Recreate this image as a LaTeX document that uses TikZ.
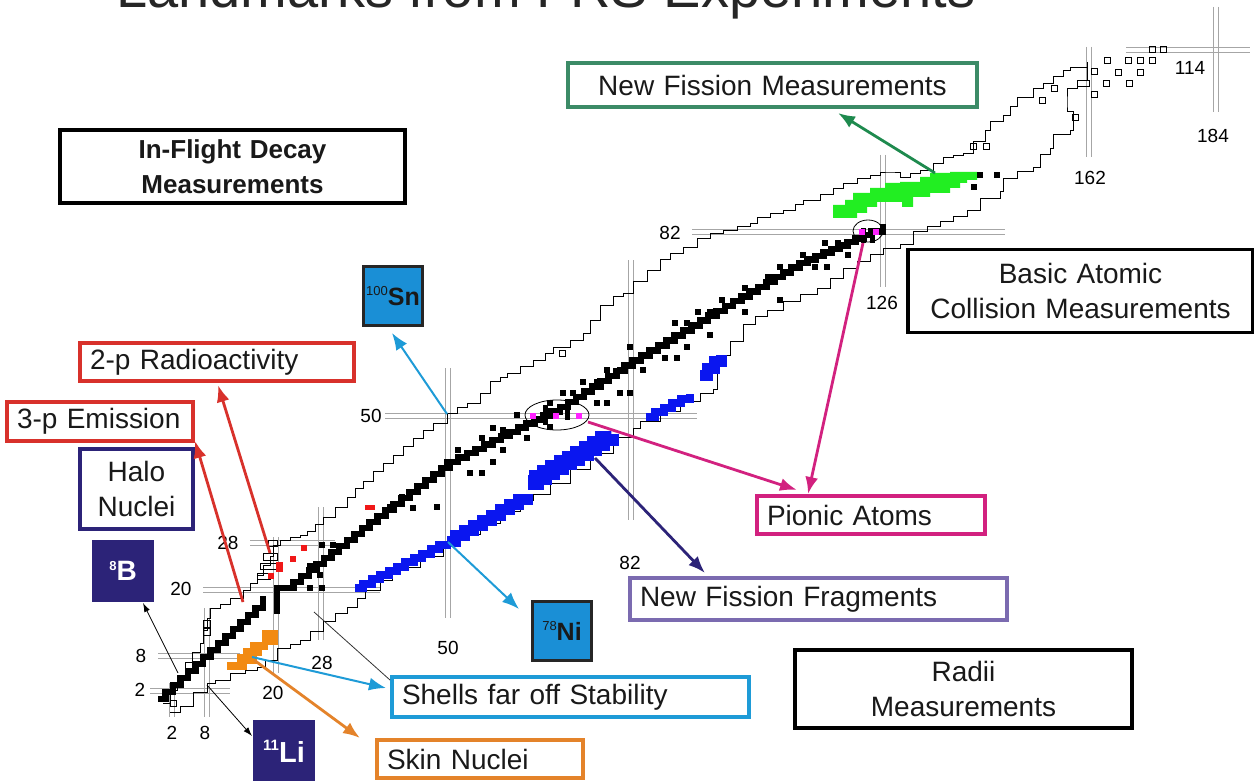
\documentclass[tikz,border=0pt]{standalone}
\usepackage{fontspec}
\setmainfont{Liberation Sans}
\usetikzlibrary{arrows.meta,calc}
\definecolor{navy}{HTML}{2C2378}
\definecolor{redbox}{HTML}{D8312B}
\definecolor{grnbox}{HTML}{3C8B67}
\definecolor{grnarr}{HTML}{1E8A4E}
\definecolor{pinkbox}{HTML}{D2217F}
\definecolor{purpbox}{HTML}{7B6BB0}
\definecolor{shellbox}{HTML}{1E9BD7}
\definecolor{orgbox}{HTML}{E4832A}
\definecolor{elblue}{HTML}{1A8FD6}
\definecolor{regblue}{HTML}{0A16F0}
\definecolor{reggreen}{HTML}{22EE22}
\definecolor{regorange}{HTML}{F28A12}
\definecolor{dotmag}{HTML}{FF22FF}
\definecolor{regred}{HTML}{F01818}
\newcommand\bsq[2]{\fill ({#1-2.9},{#2-2.9}) rectangle +(5.8,5.8);}
\newcommand\hsq[2]{\draw[line width=0.8pt] ({#1-3},{#2-3}) rectangle +(6,6);}
\newcommand\hmag[3]{\draw[magic] (#1,#3) -- (#2,#3); \draw[magic] (#1,{#3+5}) -- (#2,{#3+5});}
\newcommand\vmag[3]{\draw[magic] (#1,#2) -- (#1,#3); \draw[magic] ({#1+5},#2) -- ({#1+5},#3);}
\tikzset{
  magic/.style={draw=black!35, line width=0.7pt},
  drip/.style={draw=black, line width=0.9pt, line join=miter},
  stab/.style={draw=black, line width=6.5pt, line join=miter},
  bluestair/.style={draw=regblue, line join=miter},
  lbox/.style={draw, line width=3.5pt, inner xsep=10pt, inner ysep=0pt, font=\fontsize{28}{35}\selectfont, text=black!90},
  numlbl/.style={font=\fontsize{19}{19}\selectfont, inner sep=0pt},
  arr/.style={line width=2.8pt, -{Latex[length=17pt,width=13pt]}},
  thinarr/.style={line width=0.8pt, -{Latex[length=9pt,width=6pt]}},
  elem/.style={minimum width=59pt, minimum height=59pt, inner sep=0pt, line width=3pt},
}
\begin{document}
\begin{tikzpicture}[x=1pt,y=-1pt]
\useasboundingbox (0,0) rectangle (1254,781);
\clip (0,0) rectangle (1254,781);
\fill[white] (0,0) rectangle (1254,781);

% title (cut off at top)
\node[anchor=base west, inner sep=0pt, font=\fontsize{56}{60}\selectfont, text=black!85] (title) at (116,8) {Landmarks from FRS Experiments};

% magic number lines
\hmag{150}{230}{688}
\hmag{158}{240}{653}
\hmag{203}{380}{587}
\hmag{250}{335}{540}
\hmag{385}{697}{413}
\hmag{692}{1005}{229}
\hmag{1126}{1250}{47}
\vmag{169}{683}{717}
\vmag{204}{608}{717}
\vmag{273}{537}{673}
\vmag{318}{507}{640}
\vmag{445}{368}{618}
\vmag{628}{260}{520}
\vmag{880}{155}{287}
\vmag{1086}{47}{157}
\vmag{1213}{7}{112}

% drip lines
\draw[drip] (163,703) -| (170,690) -| (177,675) -| (185,662) -| (192,652) -| (200,643) -| (203,630) -| (207,618) -| (210,608) -| (220,604) -| (230,598) -| (243,590) -| (250,583) -| (257,575) -| (263,565) -| (270,556) -| (273,545) -| (280,540) -| (290,537) -| (300,535) -| (307,531) -| (315,524) -| (323,517) -| (335,507) -| (347,497) -| (355,488) -| (363,481) -| (373,471) -| (383,463) -| (393,455) -| (403,446) -| (413,438) -| (423,430) -| (433,423) -| (447,413) -| (457,407) -| (467,403) -| (480,393) -| (490,381) -| (500,377) -| (507,373) -| (520,366) -| (533,360) -| (545,353) -| (553,347) -| (570,340) -| (583,333) -| (590,320) -| (600,305) -| (613,296) -| (623,293) -| (633,281) -| (647,270) -| (660,259) -| (670,253) -| (683,247) -| (697,238) -| (710,233) -| (723,230) -| (737,226) -| (750,223) -| (757,217) -| (770,213) -| (783,210) -| (795,204) -| (803,200) -| (820,194) -| (833,188) -| (843,183) -| (857,178) -| (870,175) -| (880,172) -| (890,172) -| (900,177) -| (910,173) -| (920,170) -| (933,163) -| (943,157) -| (953,155) -| (963,153) -| (973,141) -| (985,130) -| (990,121) -| (1003,115) -| (1010,106) -| (1017,97) -| (1033,88) -| (1043,83) -| (1053,76) -| (1063,70) -| (1070,67) -| (1087,62);
\draw[drip] (170,712) -| (180,706) -| (193,692) -| (207,683) -| (215,680) -| (230,673) -| (245,670) -| (257,667) -| (265,660) -| (277,648) -| (290,644) -| (300,640) -| (310,631) -| (323,621) -| (335,613) -| (347,607) -| (357,598) -| (365,590) -| (380,580) -| (392,572) -| (400,567) -| (420,556) -| (443,544) -| (460,534) -| (480,523) -| (500,511) -| (520,500) -| (533,494) -| (550,483) -| (570,469) -| (590,453) -| (613,437) -| (633,428) -| (640,421) -| (660,411) -| (680,401) -| (700,393) -| (713,389) -| (717,355) -| (730,341) -| (743,324) -| (755,316) -| (767,310) -| (783,301) -| (800,294) -| (817,288) -| (830,278) -| (843,268) -| (857,261) -| (870,254) -| (883,248) -| (900,244) -| (913,231) -| (927,226) -| (940,221) -| (953,216) -| (967,210) -| (980,198) -| (1000,191) -| (1003,178) -| (1017,171) -| (1033,167) -| (1040,154) -| (1050,148) -| (1053,134) -| (1070,130) -| (1073,111) -| (1067,104) -| (1067,88) -| (1077,80) -| (1087,62);
% small unbound boxes on proton side
\draw[line width=0.8pt] (263,553) rectangle (277,560);
\draw[line width=0.8pt] (260,563) rectangle (278,569);
\draw[line width=0.8pt] (257,573) rectangle (270,579);
\draw[line width=0.8pt] (268,540) rectangle (277,546);
\draw[line width=0.8pt] (203,620) rectangle (210,627);
\draw[line width=0.8pt] (203,628) rectangle (210,635);
\draw[line width=0.8pt] (170,700) rectangle (176,706);
\draw[line width=0.8pt] (1077,80) rectangle (1089,86);
% super heavy hollow squares
\hsq{1107}{60}\hsq{1118}{72}\hsq{1128}{60}\hsq{1140}{60}\hsq{1152}{60}\hsq{1140}{72}
\hsq{1152}{49}\hsq{1163}{49}\hsq{1094}{71}\hsq{1106}{83}\hsq{1129}{83}\hsq{1094}{94}
\hsq{1042}{100}\hsq{1054}{88}\hsq{973}{146}\hsq{986}{146}\hsq{1075}{117}\hsq{562}{353}

% coloured regions
\draw[bluestair, line width=8pt] (355,588) foreach \i in {1,...,11}{ -| ++(8.4,-4.3) };
\draw[bluestair, line width=11pt] (447,541) foreach \i in {1,...,9}{ -| ++(8.9,-5.2) };
\draw[bluestair, line width=15pt] (528,482) foreach \i in {1,...,10}{ -| ++(8.3,-4.8) };
\draw[bluestair, line width=8pt] (646,417) foreach \i in {1,...,5}{ -| ++(8.8,-4.6) };
\draw[bluestair, line width=11pt] (700,375) foreach \i in {1,...,3}{ -| ++(7.3,-6.7) };
\fill[reggreen] (833,205) -| (845,200) -| (853,193) -| (870,188) -| (885,183) -| (900,182) -| (920,177) -| (930,173) -| (950,172) -| (977,172) -- (977,180) -| (967,183) -| (960,188) -| (950,193) -| (930,197) -| (915,197) -| (913,207) -| (902,207) -| (902,202) -| (887,202) -| (877,207) -| (867,213) -| (857,218) -| (845,218) -| (833,212) -- cycle;
\fill[regorange] (262,630) rectangle (278,645);
\fill[regorange] (250,642) rectangle (268,650);
\fill[regorange] (243,648) rectangle (262,656);
\fill[regorange] (237,654) rectangle (257,664);
\fill[regorange] (227,662) rectangle (247,670);
\fill[regred] (268,573) rectangle (274,579);
\fill[regred] (276,562) rectangle (283,572);
\fill[regred] (290,556) rectangle (296,562);
\fill[regred] (301,545) rectangle (307,551);
\fill[regred] (365,505) rectangle (375,510);

% valley of stability
\draw[stab] (158,699) foreach \i in {1,...,14}{ -| ++(7.5,-7) } -- ++(0,-5);
\draw[stab] (277,614) -- (277,588) -- (286,588) foreach \i in {1,...,11}{ -| ++(7.6,-6) }
  foreach \i in {1,...,10}{ -| ++(8,-6) }
  foreach \i in {1,...,5}{ -| ++(8.6,-4.4) }
  foreach \i in {1,...,8}{ -| ++(8.4,-4.1) }
  foreach \i in {1,...,9}{ -| ++(8.1,-5.2) }
  foreach \i in {1,...,8}{ -| ++(8.4,-5) }
  foreach \i in {1,...,12}{ -| ++(8.3,-4.8) }
  foreach \i in {1,...,10}{ -| ++(8,-3.5) };
\fill (861,228) rectangle (866,243);
\fill (870,230) rectangle (875,243);
\fill (880,224) rectangle (886,235);
\fill (543,405) rectangle (548,425);
\fill (565,405) rectangle (570,420);
% scattered stable/long-lived
\bsq{322}{545}\bsq{333}{545}\bsq{310}{566}\bsq{320}{575}\bsq{310}{588}\bsq{322}{588}
\bsq{378}{517}\bsq{390}{507}\bsq{402}{497}\bsq{413}{508}\bsq{425}{485}\bsq{437}{507}
\bsq{447}{462}\bsq{458}{450}\bsq{470}{473}\bsq{482}{473}\bsq{493}{462}\bsq{503}{450}
\bsq{482}{438}\bsq{493}{428}\bsq{503}{430}\bsq{527}{438}\bsq{517}{415}\bsq{550}{427}
\bsq{550}{403}\bsq{563}{393}\bsq{573}{393}\bsq{583}{382}\bsq{597}{382}\bsq{597}{403}
\bsq{607}{403}\bsq{620}{393}\bsq{630}{393}\bsq{607}{370}\bsq{620}{370}\bsq{643}{370}
\bsq{630}{347}\bsq{665}{358}\bsq{677}{358}\bsq{675}{323}\bsq{687}{323}\bsq{687}{347}
\bsq{698}{312}\bsq{710}{312}\bsq{710}{335}\bsq{722}{300}\bsq{745}{312}\bsq{745}{288}
\bsq{768}{277}\bsq{780}{267}\bsq{780}{300}\bsq{803}{255}\bsq{815}{267}\bsq{825}{243}
\bsq{827}{267}\bsq{848}{255}\bsq{838}{243}\bsq{980}{175}\bsq{997}{175}\bsq{974}{187}
% magenta dots and ellipses
\fill[dotmag] (530,413) rectangle (536,419);
\fill[dotmag] (553,413) rectangle (559,419);
\fill[dotmag] (576,413) rectangle (582,419);
\fill[dotmag] (859,229) rectangle (865,235);
\fill[dotmag] (873,229) rectangle (879,235);
\draw[line width=0.8pt] (557,415) ellipse [x radius=32pt, y radius=15pt];
\draw[line width=0.8pt] (868,231) ellipse [x radius=15pt, y radius=11pt];

% magic number labels
\node[numlbl] (z2) at (140,690) {2};
\node[numlbl] (z8) at (141,656) {8};
\node[numlbl] (z20) at (181,589) {20};
\node[numlbl] (z28) at (228,543) {28};
\node[numlbl] (z50) at (371,416) {50};
\node[numlbl] (z82) at (670,233) {82};
\node[numlbl] (z114) at (1190,68) {114};
\node[numlbl] (n184) at (1213,136) {184};
\node[numlbl] (n162) at (1090,178) {162};
\node[numlbl] (n126) at (882,303) {126};
\node[numlbl] (n82) at (630,563) {82};
\node[numlbl] (n50) at (448,648) {50};
\node[numlbl] (n28) at (322,663) {28};
\node[numlbl] (n20) at (273,693) {20};
\node[numlbl] (n2) at (172,733) {2};
\node[numlbl] (n8) at (205,733) {8};

% label boxes
\node[lbox, draw=grnbox, text width=389pt, minimum height=44pt, align=center] (nfm) at (772.5,85) {New Fission Measurements};
\node[lbox, draw=black, text width=325pt, minimum height=73pt, align=center, font=\fontsize{26}{35}\selectfont\bfseries] (ifd) at (232.5,166.5) {In-Flight Decay\\Measurements};
\node[lbox, draw=black, text width=325pt, minimum height=83pt, align=center] (bac) at (1080.5,291) {Basic Atomic\\Collision Measurements};
\node[lbox, draw=redbox, text width=254pt, minimum height=38pt, align=left] (tp) at (217,362) {2-p Radioactivity};
\node[lbox, draw=redbox, text width=166pt, minimum height=39pt, align=left] (thp) at (100,421.5) {3-p Emission};
\node[lbox, draw=navy, text width=93pt, minimum height=80pt, align=center] (halo) at (136.5,489) {Halo\\Nuclei};
\node[lbox, draw=pinkbox, text width=208pt, minimum height=38pt, align=left] (pion) at (871,515) {Pionic Atoms};
\node[lbox, draw=purpbox, text width=357pt, minimum height=42pt, align=left] (nff) at (818.5,599) {New Fission Fragments};
\node[lbox, draw=black, text width=317pt, minimum height=78pt, align=center] (radii) at (963.5,689) {Radii\\Measurements};
\node[lbox, draw=shellbox, text width=337pt, minimum height=40pt, align=left] (shells) at (570.5,697) {Shells far off Stability};
\node[lbox, draw=orgbox, text width=186pt, minimum height=38pt, align=left] (skin) at (480,759) {Skin Nuclei};

% element boxes
\node[elem, fill=navy, draw=navy, text=white] (b8) at (123,571) {\raisebox{10pt}{\fontsize{13}{13}\selectfont\bfseries 8}{\fontsize{28}{28}\selectfont\bfseries B}};
\node[elem, fill=elblue, draw=black!85, text=black!90] (sn) at (393,296) {\raisebox{10pt}{\fontsize{13}{13}\selectfont 100}{\fontsize{25}{25}\selectfont\bfseries Sn}};
\node[elem, fill=elblue, draw=black!85, text=black!90] (ni) at (562,631) {\raisebox{10pt}{\fontsize{13}{13}\selectfont 78}{\fontsize{25}{25}\selectfont\bfseries Ni}};
\node[elem, fill=navy, draw=navy, text=white] (li) at (284,751) {\raisebox{12pt}{\fontsize{15}{15}\selectfont\bfseries 11}{\fontsize{29}{29}\selectfont\bfseries Li}};

% connector end points
\coordinate (gS) at (935,173);  \coordinate (gT) at (838,113);
\coordinate (pS1) at (588,422); \coordinate (pT1) at (797,490);
\coordinate (pS2) at (863,243); \coordinate (pT2) at (808,494);
\coordinate (nS) at (595,458);  \coordinate (nT) at (705,573);
\coordinate (snS) at (447,414); \coordinate (snT) at (392,333);
\coordinate (niS) at (448,542); \coordinate (niT) at (519,609);
\coordinate (shS) at (252,657); \coordinate (shT) at (386,688);
\coordinate (shS2) at (314,612); \coordinate (shT2) at (390,680);
\coordinate (skS) at (254,660); \coordinate (skT) at (360,738);
\coordinate (liS) at (207,685); \coordinate (liT) at (252,736);
\coordinate (bS) at (178,673);  \coordinate (bT) at (143,603);
\coordinate (r2S) at (270,553); \coordinate (r2T) at (218,385);
\coordinate (r3S) at (243,602); \coordinate (r3T) at (195,441);

% connectors
\draw[arr, draw=grnarr, fill=grnarr] (gS) -- (gT);
\draw[arr, draw=pinkbox, fill=pinkbox] (pS1) -- (pT1);
\draw[arr, draw=pinkbox, fill=pinkbox] (pS2) -- (pT2);
\draw[arr, draw=navy, fill=navy] (nS) -- (nT);
\draw[arr, line width=2pt, draw=shellbox, fill=shellbox] (snS) -- (snT);
\draw[arr, line width=2pt, draw=shellbox, fill=shellbox] (niS) -- (niT);
\draw[arr, line width=2pt, draw=shellbox, fill=shellbox] (shS) -- (shT);
\draw[line width=0.8pt, black!80] (shS2) -- (shT2);
\draw[arr, draw=orgbox, fill=orgbox] (skS) -- (skT);
\draw[thinarr] (liS) -- (liT);
\draw[thinarr] (bS) -- (bT);
\draw[arr, draw=redbox, fill=redbox] (r2S) -- (r2T);
\draw[arr, draw=redbox, fill=redbox] (r3S) -- (r3T);
\end{tikzpicture}
\end{document}
